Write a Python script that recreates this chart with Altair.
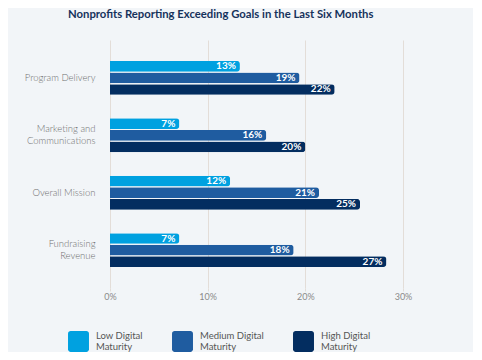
import altair as alt
import pandas as pd

categories = ["Program Delivery", "Marketing and|Communications", "Overall Mission", "Fundraising|Revenue"]
series = ["Low Digital|Maturity", "Medium Digital|Maturity", "High Digital|Maturity"]
# bar lengths as drawn (percent)
low = [13.3, 7.1, 12.3, 7.1]
medium = [19.4, 16.0, 21.4, 18.8]
high = [23.0, 20.0, 25.6, 28.3]
# labels printed on the bars
low_lbl = ["13%", "7%", "12%", "7%"]
medium_lbl = ["19%", "16%", "21%", "18%"]
high_lbl = ["22%", "20%", "25%", "27%"]
ticks = [0, 10, 20, 30]
colors = ["#00A1E0", "#1F5CA0", "#032D60"]

rows = []
for i, c in enumerate(categories):
    for s, vals, lbls in zip(series, [low, medium, high], [low_lbl, medium_lbl, high_lbl]):
        rows.append({"category": c, "series": s, "value": vals[i], "label": lbls[i]})
df = pd.DataFrame(rows)

rounded = ("M -0.75 -1 L 0.75 -1 A 0.25 0.25 0 0 1 1 -0.75 L 1 0.75 A 0.25 0.25 0 0 1 0.75 1 "
           "L -0.75 1 A 0.25 0.25 0 0 1 -1 0.75 L -1 -0.75 A 0.25 0.25 0 0 1 -0.75 -1 Z")

multi = "indexof(datum.value, '|') >= 0"

base = alt.Chart(df).encode(
    y=alt.Y("category:N", sort=categories, title=None,
            scale=alt.Scale(paddingInner=0.41, paddingOuter=0.365),
            axis=alt.Axis(labelExpr="split(datum.label, '|')", labelFont="Lato",
                          labelFontSize=9.5, labelFontWeight=300, labelColor="#707070",
                          labelPadding=15, ticks=False, domain=False, labelLineHeight=12,
                          labelBaseline={"condition": {"test": multi, "value": "line-bottom"},
                                         "value": "middle"})),
    yOffset=alt.YOffset("series:N", sort=series, scale=alt.Scale(paddingInner=0.08)),
    x=alt.X("value:Q", title=None, scale=alt.Scale(domain=[0, 30], nice=False),
            axis=alt.Axis(values=ticks, labelExpr="datum.value + '%'", grid=True,
                          gridColor="#e3ddd8", gridWidth=1, domain=False, labelFlush=False,
                          tickColor="#e3ddd8", tickSize=3, labelPadding=1,
                          labelFont="Lato", labelFontSize=9, labelColor="#8a8a8a")),
)

bars = base.mark_bar(cornerRadiusEnd=3).encode(
    color=alt.Color("series:N", sort=series, scale=alt.Scale(domain=series, range=colors),
                    legend=alt.Legend(title=None, orient="none", direction="horizontal",
                                      legendX=-42, legendY=291,
                                      labelExpr="split(datum.label, '|')",
                                      labelBaseline="line-bottom",
                                      symbolType=rounded, symbolSize=440,
                                      symbolStrokeWidth=0, symbolOpacity=1,
                                      labelFont="Lato", labelFontSize=9.5,
                                      labelColor="#555555", labelOffset=7,
                                      columnPadding=29, labelLimit=200,
                                      padding=0))
)

text = base.mark_text(align="right", baseline="middle", dx=-4, color="white",
                      font="Lato", fontWeight="bold", fontSize=10).encode(
    text=alt.Text("label:N")
)

chart = (bars + text).properties(
    width=293, height=248,
    title=alt.TitleParams("Nonprofits Reporting Exceeding Goals in the Last Six Months",
                          anchor="start", frame="group", dx=-42, offset=20, font="Lato",
                          fontSize=11.3, fontWeight="bold", color="#16325C"),
    autosize=alt.AutoSizeParams(type="none"),
    padding={"left": 102, "top": 32, "right": 70, "bottom": 64},
    background="#F2F5F8",
).configure_view(stroke=None)

chart.save("out.html", embed_options={"renderer": "svg", "actions": False})
